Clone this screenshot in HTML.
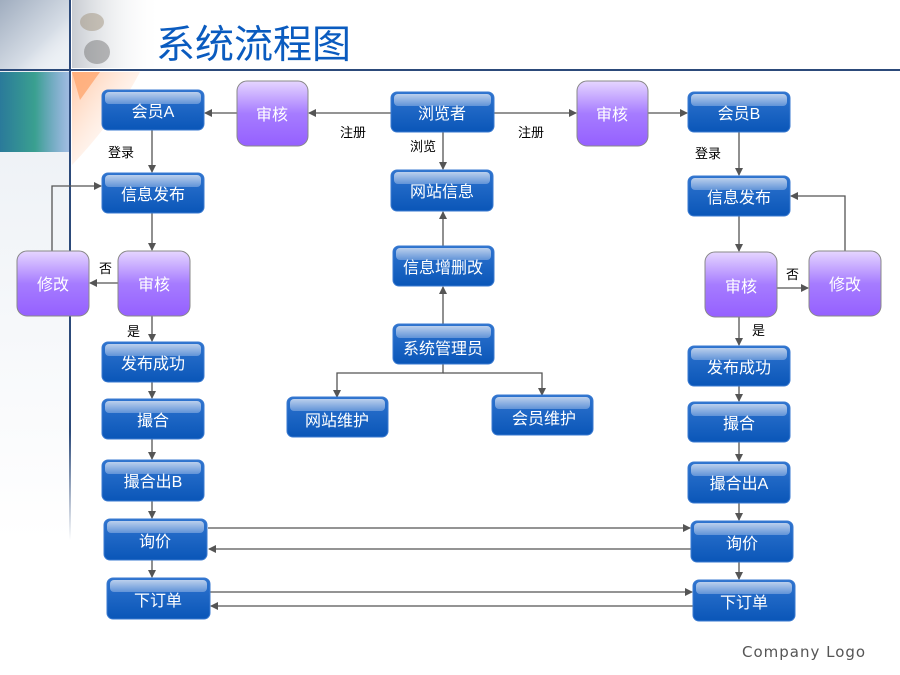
<!DOCTYPE html>
<html><head><meta charset="utf-8"><style>
html,body{margin:0;padding:0;background:#fff;width:900px;height:675px;overflow:hidden}
svg text{font-family:"Liberation Sans","Noto Sans CJK SC",sans-serif}
</style></head><body>
<svg width="900" height="675" viewBox="0 0 900 675" xmlns="http://www.w3.org/2000/svg">
<defs>
<linearGradient id="bl" x1="0" y1="0" x2="0" y2="1"><stop offset="0" stop-color="#2f74cf"/><stop offset="1" stop-color="#0a56b8"/></linearGradient>
<linearGradient id="hl" x1="0" y1="0" x2="0" y2="1"><stop offset="0" stop-color="#d4e0f2"/><stop offset="1" stop-color="#6c9bdb"/></linearGradient>
<linearGradient id="pu" x1="0" y1="0" x2="0" y2="1"><stop offset="0" stop-color="#e6d6ff"/><stop offset="0.5" stop-color="#a67cff"/><stop offset="1" stop-color="#9560ff"/></linearGradient>
<linearGradient id="tl" x1="0" y1="0" x2="1" y2="1"><stop offset="0" stop-color="#a0adbf"/><stop offset="0.6" stop-color="#d6dde6"/><stop offset="1" stop-color="#ffffff" stop-opacity="0"/></linearGradient>
<linearGradient id="tr" x1="0" y1="0" x2="1" y2="0"><stop offset="0" stop-color="#c8ccd2"/><stop offset="1" stop-color="#ffffff" stop-opacity="0"/></linearGradient>
<linearGradient id="ml" x1="0" y1="0" x2="1" y2="0"><stop offset="0" stop-color="#2a7a9a"/><stop offset="0.5" stop-color="#3aa090"/><stop offset="1" stop-color="#5a8ad0" stop-opacity="0.5"/></linearGradient>
<linearGradient id="or" x1="0" y1="0" x2="1" y2="1"><stop offset="0" stop-color="#ffb080"/><stop offset="1" stop-color="#ffffff" stop-opacity="0"/></linearGradient>
<linearGradient id="vf" x1="0" y1="0" x2="0" y2="1"><stop offset="0" stop-color="#2c4a7a"/><stop offset="0.8" stop-color="#2c4a7a"/><stop offset="1" stop-color="#2c4a7a" stop-opacity="0"/></linearGradient>
<linearGradient id="lf" x1="0" y1="0" x2="0" y2="1"><stop offset="0" stop-color="#e8edf3"/><stop offset="1" stop-color="#ffffff"/></linearGradient>
<marker id="a" markerWidth="8" markerHeight="8" refX="7" refY="4" orient="auto" markerUnits="userSpaceOnUse"><path d="M0,0 L8,4 L0,8 z" fill="#555"/></marker>
</defs>
<rect x="0" y="0" width="70" height="540" fill="url(#lf)"/>
<rect x="0" y="0" width="70" height="70" fill="url(#tl)"/>
<rect x="72" y="0" width="90" height="68" fill="url(#tr)"/>
<ellipse cx="97" cy="52" rx="13" ry="12" fill="#6a6a6a" opacity="0.45"/>
<ellipse cx="92" cy="22" rx="12" ry="9" fill="#9a8a70" opacity="0.45"/>
<rect x="0" y="72" width="70" height="80" fill="url(#ml)"/>
<path d="M72,72 L140,72 Q115,120 72,165 Z" fill="url(#or)" opacity="0.7"/>
<path d="M72,72 L100,72 L80,100 Z" fill="#ffa870" opacity="0.8"/>
<rect x="0" y="69" width="900" height="2" fill="#2c4a7a"/>
<rect x="69" y="0" width="2" height="540" fill="url(#vf)"/>
<text x="156" y="58" font-size="39" fill="#0a5bbf">系统流程图</text>

<g stroke="#555" stroke-width="1.3" fill="none">
<line x1="391" y1="113" x2="309" y2="113" marker-end="url(#a)"/>
<line x1="237" y1="113" x2="205" y2="113" marker-end="url(#a)"/>
<line x1="494" y1="113" x2="576" y2="113" marker-end="url(#a)"/>
<line x1="648" y1="113" x2="687" y2="113" marker-end="url(#a)"/>
<line x1="443" y1="132" x2="443" y2="169" marker-end="url(#a)"/>
<line x1="443" y1="246" x2="443" y2="212" marker-end="url(#a)"/>
<line x1="443" y1="324" x2="443" y2="287" marker-end="url(#a)"/>
<polyline points="443,364 443,373 337,373 337,397" marker-end="url(#a)"/>
<polyline points="443,373 542,373 542,395" marker-end="url(#a)"/>
<line x1="152" y1="130" x2="152" y2="172" marker-end="url(#a)"/>
<line x1="152" y1="213" x2="152" y2="250" marker-end="url(#a)"/>
<line x1="118" y1="283" x2="90" y2="283" marker-end="url(#a)"/>
<polyline points="52,251 52,186 101,186" marker-end="url(#a)"/>
<line x1="152" y1="316" x2="152" y2="341" marker-end="url(#a)"/>
<line x1="152" y1="382" x2="152" y2="398" marker-end="url(#a)"/>
<line x1="152" y1="439" x2="152" y2="459" marker-end="url(#a)"/>
<line x1="152" y1="501" x2="152" y2="518" marker-end="url(#a)"/>
<line x1="152" y1="560" x2="152" y2="577" marker-end="url(#a)"/>
<line x1="739" y1="132" x2="739" y2="175" marker-end="url(#a)"/>
<line x1="739" y1="216" x2="739" y2="251" marker-end="url(#a)"/>
<line x1="777" y1="288" x2="808" y2="288" marker-end="url(#a)"/>
<polyline points="845,251 845,196 791,196" marker-end="url(#a)"/>
<line x1="739" y1="317" x2="739" y2="345" marker-end="url(#a)"/>
<line x1="739" y1="386" x2="739" y2="401" marker-end="url(#a)"/>
<line x1="739" y1="442" x2="739" y2="461" marker-end="url(#a)"/>
<line x1="739" y1="503" x2="739" y2="520" marker-end="url(#a)"/>
<line x1="739" y1="562" x2="739" y2="579" marker-end="url(#a)"/>
<line x1="208" y1="528" x2="690" y2="528" marker-end="url(#a)"/>
<line x1="691" y1="549" x2="209" y2="549" marker-end="url(#a)"/>
<line x1="210" y1="592" x2="692" y2="592" marker-end="url(#a)"/>
<line x1="693" y1="606" x2="211" y2="606" marker-end="url(#a)"/>
</g>
<g font-size="13" fill="#000">
<text x="340" y="137">注册</text><text x="518" y="137">注册</text>
<text x="410" y="151">浏览</text>
<text x="108" y="157">登录</text><text x="695" y="158">登录</text>
<text x="99" y="273">否</text><text x="786" y="279">否</text>
<text x="127" y="336">是</text><text x="752" y="335">是</text>
</g>

<g>
<g transform="translate(102,90)"><rect width="102" height="40" rx="6" fill="url(#bl)" stroke="#3a7ad0"/><rect x="3" y="2" width="96" height="12" rx="4" fill="url(#hl)" opacity="0.85"/><text x="51" y="27" font-size="16" fill="#fff" text-anchor="middle">会员A</text></g>
<g transform="translate(102,173)"><rect width="102" height="40" rx="6" fill="url(#bl)" stroke="#3a7ad0"/><rect x="3" y="2" width="96" height="12" rx="4" fill="url(#hl)" opacity="0.85"/><text x="51" y="27" font-size="16" fill="#fff" text-anchor="middle">信息发布</text></g>
<g transform="translate(102,342)"><rect width="102" height="40" rx="6" fill="url(#bl)" stroke="#3a7ad0"/><rect x="3" y="2" width="96" height="12" rx="4" fill="url(#hl)" opacity="0.85"/><text x="51" y="27" font-size="16" fill="#fff" text-anchor="middle">发布成功</text></g>
<g transform="translate(102,399)"><rect width="102" height="40" rx="6" fill="url(#bl)" stroke="#3a7ad0"/><rect x="3" y="2" width="96" height="12" rx="4" fill="url(#hl)" opacity="0.85"/><text x="51" y="27" font-size="16" fill="#fff" text-anchor="middle">撮合</text></g>
<g transform="translate(102,460)"><rect width="102" height="41" rx="6" fill="url(#bl)" stroke="#3a7ad0"/><rect x="3" y="2" width="96" height="12" rx="4" fill="url(#hl)" opacity="0.85"/><text x="51" y="27" font-size="16" fill="#fff" text-anchor="middle">撮合出B</text></g>
<g transform="translate(104,519)"><rect width="103" height="41" rx="6" fill="url(#bl)" stroke="#3a7ad0"/><rect x="3" y="2" width="97" height="12" rx="4" fill="url(#hl)" opacity="0.85"/><text x="51" y="28" font-size="16" fill="#fff" text-anchor="middle">询价</text></g>
<g transform="translate(107,578)"><rect width="103" height="41" rx="6" fill="url(#bl)" stroke="#3a7ad0"/><rect x="3" y="2" width="97" height="12" rx="4" fill="url(#hl)" opacity="0.85"/><text x="51" y="28" font-size="16" fill="#fff" text-anchor="middle">下订单</text></g>
<g transform="translate(391,92)"><rect width="103" height="40" rx="6" fill="url(#bl)" stroke="#3a7ad0"/><rect x="3" y="2" width="97" height="12" rx="4" fill="url(#hl)" opacity="0.85"/><text x="51" y="27" font-size="16" fill="#fff" text-anchor="middle">浏览者</text></g>
<g transform="translate(391,170)"><rect width="102" height="41" rx="6" fill="url(#bl)" stroke="#3a7ad0"/><rect x="3" y="2" width="96" height="12" rx="4" fill="url(#hl)" opacity="0.85"/><text x="51" y="27" font-size="16" fill="#fff" text-anchor="middle">网站信息</text></g>
<g transform="translate(393,246)"><rect width="101" height="40" rx="6" fill="url(#bl)" stroke="#3a7ad0"/><rect x="3" y="2" width="95" height="12" rx="4" fill="url(#hl)" opacity="0.85"/><text x="50" y="27" font-size="16" fill="#fff" text-anchor="middle">信息增删改</text></g>
<g transform="translate(393,324)"><rect width="101" height="40" rx="6" fill="url(#bl)" stroke="#3a7ad0"/><rect x="3" y="2" width="95" height="12" rx="4" fill="url(#hl)" opacity="0.85"/><text x="50" y="30" font-size="16" fill="#fff" text-anchor="middle">系统管理员</text></g>
<g transform="translate(287,397)"><rect width="101" height="40" rx="6" fill="url(#bl)" stroke="#3a7ad0"/><rect x="3" y="2" width="95" height="12" rx="4" fill="url(#hl)" opacity="0.85"/><text x="50" y="29" font-size="16" fill="#fff" text-anchor="middle">网站维护</text></g>
<g transform="translate(492,395)"><rect width="101" height="40" rx="6" fill="url(#bl)" stroke="#3a7ad0"/><rect x="3" y="2" width="95" height="12" rx="4" fill="url(#hl)" opacity="0.85"/><text x="52" y="29" font-size="16" fill="#fff" text-anchor="middle">会员维护</text></g>
<g transform="translate(688,92)"><rect width="102" height="40" rx="6" fill="url(#bl)" stroke="#3a7ad0"/><rect x="3" y="2" width="96" height="12" rx="4" fill="url(#hl)" opacity="0.85"/><text x="51" y="27" font-size="16" fill="#fff" text-anchor="middle">会员B</text></g>
<g transform="translate(688,176)"><rect width="102" height="40" rx="6" fill="url(#bl)" stroke="#3a7ad0"/><rect x="3" y="2" width="96" height="12" rx="4" fill="url(#hl)" opacity="0.85"/><text x="51" y="27" font-size="16" fill="#fff" text-anchor="middle">信息发布</text></g>
<g transform="translate(688,346)"><rect width="102" height="40" rx="6" fill="url(#bl)" stroke="#3a7ad0"/><rect x="3" y="2" width="96" height="12" rx="4" fill="url(#hl)" opacity="0.85"/><text x="51" y="27" font-size="16" fill="#fff" text-anchor="middle">发布成功</text></g>
<g transform="translate(688,402)"><rect width="102" height="40" rx="6" fill="url(#bl)" stroke="#3a7ad0"/><rect x="3" y="2" width="96" height="12" rx="4" fill="url(#hl)" opacity="0.85"/><text x="51" y="27" font-size="16" fill="#fff" text-anchor="middle">撮合</text></g>
<g transform="translate(688,462)"><rect width="102" height="41" rx="6" fill="url(#bl)" stroke="#3a7ad0"/><rect x="3" y="2" width="96" height="12" rx="4" fill="url(#hl)" opacity="0.85"/><text x="51" y="27" font-size="16" fill="#fff" text-anchor="middle">撮合出A</text></g>
<g transform="translate(691,521)"><rect width="102" height="41" rx="6" fill="url(#bl)" stroke="#3a7ad0"/><rect x="3" y="2" width="96" height="12" rx="4" fill="url(#hl)" opacity="0.85"/><text x="51" y="28" font-size="16" fill="#fff" text-anchor="middle">询价</text></g>
<g transform="translate(693,580)"><rect width="102" height="41" rx="6" fill="url(#bl)" stroke="#3a7ad0"/><rect x="3" y="2" width="96" height="12" rx="4" fill="url(#hl)" opacity="0.85"/><text x="51" y="28" font-size="16" fill="#fff" text-anchor="middle">下订单</text></g>
</g>

<g font-size="16" fill="#fff" text-anchor="middle">
<rect x="237" y="81" width="71" height="65" rx="10" fill="url(#pu)" stroke="#888"/><text x="272" y="120" fill="#fff">审核</text>
<rect x="577" y="81" width="71" height="65" rx="10" fill="url(#pu)" stroke="#888"/><text x="612" y="120" fill="#fff">审核</text>
<rect x="17" y="251" width="72" height="65" rx="10" fill="url(#pu)" stroke="#888"/><text x="53" y="290" fill="#fff">修改</text>
<rect x="118" y="251" width="72" height="65" rx="10" fill="url(#pu)" stroke="#888"/><text x="154" y="290" fill="#fff">审核</text>
<rect x="705" y="252" width="72" height="65" rx="10" fill="url(#pu)" stroke="#888"/><text x="741" y="292" fill="#fff">审核</text>
<rect x="809" y="251" width="72" height="65" rx="10" fill="url(#pu)" stroke="#888"/><text x="845" y="290" fill="#fff">修改</text>
</g>

<text x="742" y="657" font-size="15" fill="#555" letter-spacing="1" style="font-family:'DejaVu Sans',sans-serif">Company Logo</text>
</svg>
</body></html>
